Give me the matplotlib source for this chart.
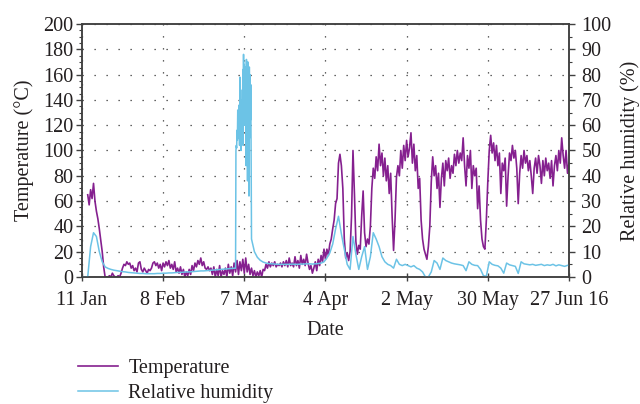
import numpy as np
import pandas as pd
import matplotlib
matplotlib.use("Agg")
import matplotlib.pyplot as plt
from matplotlib.ticker import MultipleLocator

plt.rcParams['font.family'] = ['Liberation Serif', 'DejaVu Serif']

nan = np.nan

# temperature inside the unit (deg C), one reading every 12 h from 11 Jan 2016
temperature = [
    nan, nan, nan, nan, 65, 57, 69, 62, 74, 60, 52, 46, 38, 29,
    20, 8, 0, 0, 0, 1, 0, 3, 1, 0, 0, 1, 0, 3,
    7, 10, 9, 12, 10, 11, 7, 9, 5, 7, 4, 11, 12, 6,
    4, 7, 5, 3, 6, 5, 7, 11, 12, 9, 11, 7, 10, 5,
    11, 8, 12, 9, 13, 7, 10, 6, 12, 4, 7, 3, 8, 2,
    6, 0, 4, 1, 6, 2, 9, 5, 11, 8, 13, 10, 15, 9,
    12, 7, 6, 8, 5, 7, 2, 8, 0, 6, 1, 9, 0, 5,
    2, 7, 0, 10, 3, 8, 1, 11, 4, 13, 2, 12, 5, 14,
    3, 15, 4, 10, 2, 7, 1, 5, 0, 4, 1, 5, 0, 6,
    5, 10, 7, 12, 8, 11, 9, 12, 8, 10, 9, 11, 8, 12,
    9, 13, 8, 15, 9, 11, 8, 16, 9, 13, 7, 17, 10, 14,
    9, 18, 11, 6, 9, 3, 7, 12, 5, 14, 9, 17, 12, 22,
    14, 22, 17, 26, 30, 38, 45, 58, 62, 90, 97, 88, 70, 30,
    15, 19, 13, 20, 48, 100, 66, 28, 18, 25, 22, 48, 68, 35,
    24, 30, 26, 40, 70, 86, 78, 95, 84, 105, 88, 98, 80, 94,
    76, 88, 66, 82, 48, 21, 45, 79, 88, 80, 100, 86, 104, 92,
    108, 95, 102, 114, 90, 105, 84, 96, 70, 78, 45, 30, 22, 18,
    14, 24, 40, 75, 95, 80, 88, 70, 82, 55, 78, 90, 72, 92,
    84, 94, 78, 88, 82, 97, 88, 100, 90, 98, 92, 110, 88, 72,
    96, 86, 100, 70, 88, 80, 86, 54, 72, 45, 30, 24, 22, 45,
    75, 100, 112, 98, 106, 92, 104, 88, 98, 66, 90, 84, 94, 56,
    80, 98, 92, 104, 94, 100, 86, 58, 82, 96, 86, 100, 90, 96,
    84, 92, 80, 66, 86, 94, 82, 96, 88, 74, 92, 80, 94, 84,
    90, 78, 92, 72, 88, 96, 84, 100, 90, 110, 96, 86, 100, 82,
    90,
]

# relative humidity (%), daily until the drying run in early March
rh_winter = [
    0, 0, 0, 12, 17.5, 16, 10, 6, 4, 3.4,
    3.0, 2.7, 2.5, 2.3, 2.1, 2.0, 1.8, 1.7, 1.6, 1.5,
    1.4, 1.4, 1.3, 1.3, 1.3, 1.3, 1.4, 1.4, 1.5, 1.5,
    1.6, 1.6, 1.7, 1.8, 1.8, 1.9, 2.0, 2.0, 2.1, 2.2,
    2.3, 2.4, 2.4, 2.5, 2.6, 2.7, 2.8, 2.9, 3.0, 3.1,
    3.2, 3.3, 3.4, 3.5,
]

# every 3 h during the humid episode, 4-9 Mar
rh_march = [
    50, 52, 51, 58, 54, 66, 56, 62, 55, 68, 52,
    79, 58, 74, 50, 70, 57, 66, 60, 82, 52, 88,
    62, 84, 60, 80, 65, 83, 44, 86, 50, 81, 38,
    85, 45, 78, 32, 83, 55, 80, 62, 76, 40,
]

# daily again from 9 Mar (midday)
rh_spring = [
    15, 10, 7.8, 6.6, 5.9, 5.5, 5.3, 5.2, 5.1, 5.0,
    5.0, 5.0, 5.0, 5.0, 5.1, 5.0, 5.0, 5.1, 5.1, 5.2,
    5.2, 5.1, 5.2, 5.3, 5.5, 6.0, 7.5, 9.5, 13, 19,
    24, 17, 11, 5, 3, 16, 9, 3, 8, 12,
    3, 8, 17.5, 15, 12, 8, 6, 5, 4.5, 3.5,
    7, 5, 4.5, 5, 4.5, 4, 4.5, 3.5, 3, 2,
    0, 0, 2, 6.5, 5.5, 3, 7.5, 6.5, 6, 5.5,
    5.2, 5, 4.8, 4.5, 2.5, 6, 5, 4.6, 4.5, 3,
    0.5, 0.3, 6, 5, 4.6, 4.4, 3.5, 1.5, 5.5, 4.8,
    4.5, 4.2, 1.4, 6, 5.2, 5, 4.8, 5, 4.6, 4.8,
    5, 4.5, 4.8, 4.6, 5, 4.4, 4.8, 4.5, 4.2, 4.6,
    4.7,
]

tick_dates = ['2016-01-11', '2016-02-08', '2016-03-07', '2016-04-04',
              '2016-05-02', '2016-05-30', '2016-06-27']
tick_labels = ['11 Jan', '8 Feb', '7 Mar', '4 Apr', '2 May', '30 May', '27 Jun 16']

temp = pd.Series(temperature,
                 index=pd.date_range('2016-01-11', periods=len(temperature), freq='12h'))
rh = pd.concat([
    pd.Series(rh_winter, index=pd.date_range('2016-01-11', periods=len(rh_winter), freq='D')),
    pd.Series(rh_march, index=pd.date_range('2016-03-04 03:00', periods=len(rh_march), freq='3h')),
    pd.Series(rh_spring, index=pd.date_range('2016-03-09 12:00', periods=len(rh_spring), freq='D')),
])

purple = '#85208f'
blue = '#6cc3e6'
ink = '#231f20'
frame = '#404040'
fs = 14.5

fig = plt.figure(figsize=(6.4, 4.04), dpi=100)
ax = fig.add_axes([0.128, 0.3144, 0.761, 0.6262])
ax2 = ax.twinx()

l1, = ax.plot(temp.index, temp.values, color=purple, lw=1.2, label='Temperature')
l2, = ax2.plot(rh.index, rh.values, color=blue, lw=1.1, label='Relative humidity')

ax.set_xlim(pd.Timestamp(tick_dates[0]), pd.Timestamp(tick_dates[-1]))
ax.set_ylim(0, 200)
ax2.set_ylim(0, 100)

ax.set_xticks(pd.to_datetime(tick_dates))
ax.set_xticklabels(tick_labels)
ax.yaxis.set_major_locator(MultipleLocator(20))
ax.yaxis.set_minor_locator(MultipleLocator(5))
ax2.yaxis.set_major_locator(MultipleLocator(10))
ax2.yaxis.set_minor_locator(MultipleLocator(5))

ax.grid(True, which='major', color='#333333', lw=0.9, linestyle=(0, (1, 8.6)))

for a in (ax, ax2):
    for s in a.spines.values():
        s.set_color(frame)
        s.set_linewidth(1.1)
    a.tick_params(which='major', length=4, width=1.0, color=frame,
                  labelsize=fs, labelcolor=ink, pad=2)
    a.tick_params(which='minor', length=2.5, width=0.8, color=frame)
ax.tick_params(axis='x', direction='inout', length=6, pad=7)
ax2.tick_params(axis='y', which='major', pad=5)

ax.set_ylabel('Temperature (°C)', fontsize=fs, color=ink, labelpad=7)
ax2.set_ylabel('Relative humidity (%)', fontsize=fs, color=ink, labelpad=6)
ax.set_xlabel('Date', fontsize=fs, color=ink, labelpad=8)

fig.legend(handles=[l1, l2], loc='upper left', bbox_to_anchor=(0.122, 0.112),
           frameon=False, fontsize=fs, handlelength=2.0, handletextpad=0.5,
           labelspacing=0.3, borderpad=0, borderaxespad=0, labelcolor=ink)

fig.savefig('out.png', dpi=100)
